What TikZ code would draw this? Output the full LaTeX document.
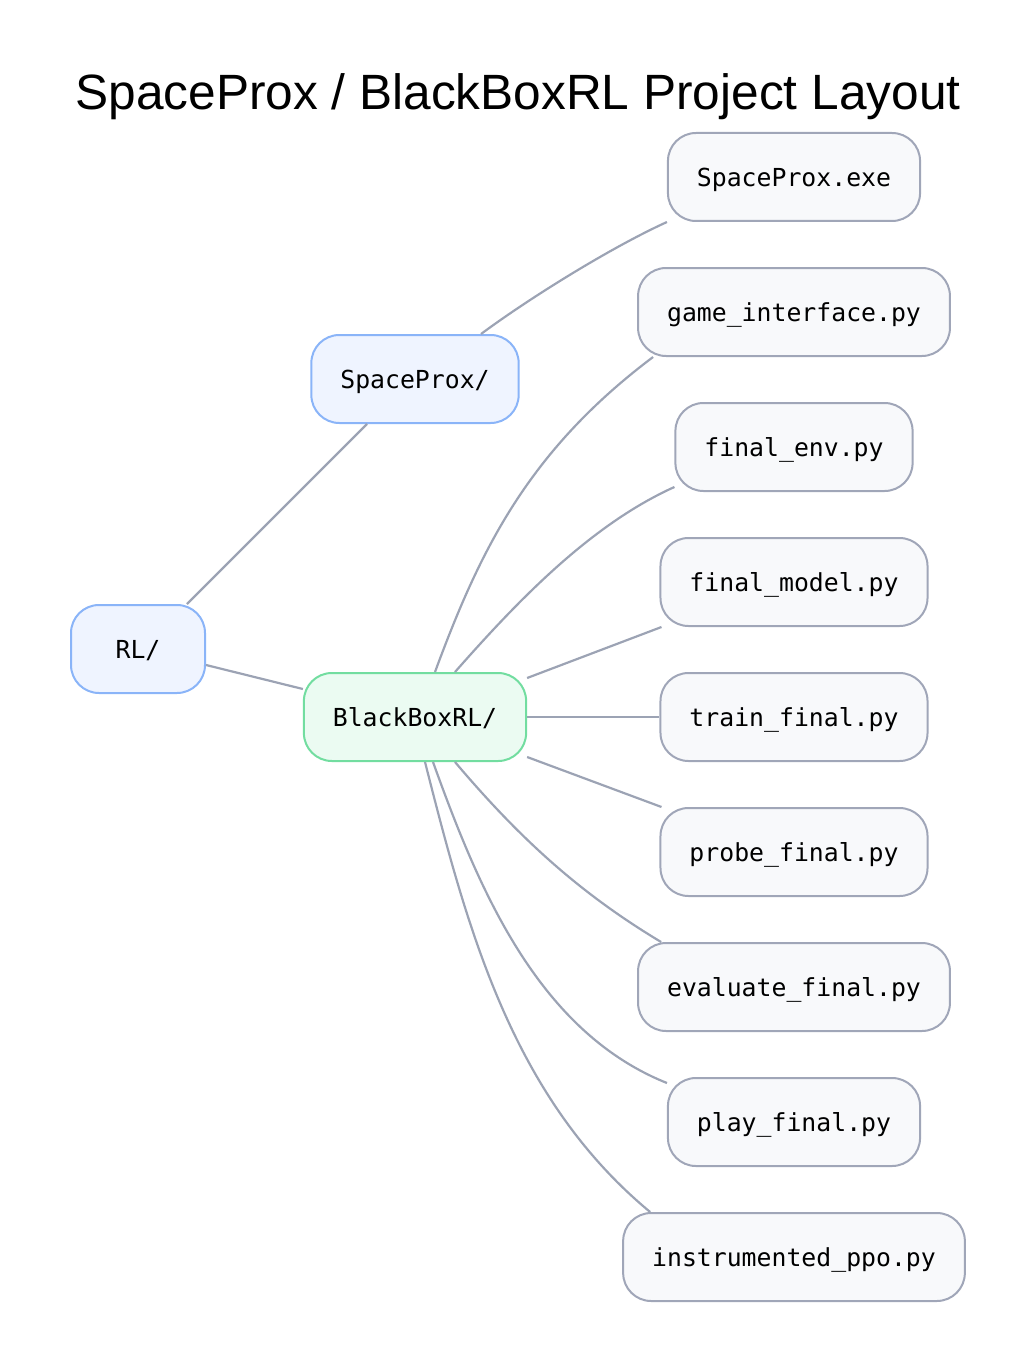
\documentclass[tikz,border=0pt]{standalone}
\usepackage{fontspec}
\setmainfont{Liberation Sans}
\setmonofont{DejaVu Sans Mono}
\usetikzlibrary{positioning}

\definecolor{dirline}{HTML}{8AB4F8}
\definecolor{dirfill}{HTML}{EFF4FF}
\definecolor{pkgline}{HTML}{72DDA0}
\definecolor{pkgfill}{HTML}{EBFBF2}
\definecolor{fileline}{HTML}{A0A6B8}
\definecolor{filefill}{HTML}{F8F9FB}
\definecolor{edge}{HTML}{9CA3B4}

\begin{document}
\begin{tikzpicture}[x = 1pt, y = -1pt, node distance = 45pt,
    box/.style = {draw, line width = 2pt, rounded corners = 28pt, minimum height = 88pt,
      inner xsep = 29pt, text depth = 0pt, font = \ttfamily\fontsize{24.8}{28}\selectfont},
    dir/.style = {box, draw = dirline, fill = dirfill},
    pkg/.style = {box, draw = pkgline, fill = pkgfill},
    file/.style = {box, draw = fileline, fill = filefill},
    link/.style = {draw = edge, line width = 2.2pt}]
  \useasboundingbox (0,0) rectangle (1035,1356);
  \node (title) at (518,97) {\fontsize{49.6}{58}\selectfont SpaceProx / BlackBoxRL Project Layout};

  % right column: files
  \node[file] (exe) at (794,177) {SpaceProx.exe};
  \node[file, below = of exe] (gi) {game\_interface.py};
  \node[file, below = of gi] (fe) {final\_env.py};
  \node[file, below = of fe] (fm) {final\_model.py};
  \node[file, below = of fm] (tf) {train\_final.py};
  \node[file, below = of tf] (pf) {probe\_final.py};
  \node[file, below = of pf] (ef) {evaluate\_final.py};
  \node[file, below = of ef] (pl) {play\_final.py};
  \node[file, below = of pl] (ip) {instrumented\_ppo.py};

  % folders
  \node[dir, minimum width = 134pt] (rl) at (138,649) {RL/};
  \node[dir] (sp) at (415,379) {SpaceProx/};
  \node[pkg] (bb) at (415,717) {BlackBoxRL/};

  \draw[link] ([xshift = 49pt]rl.north) -- ([xshift = -48pt]sp.south);
  \draw[link] ([yshift = -16pt]rl.east) -- ([yshift = 28pt]bb.west);
  \draw[link] ([xshift = 66pt]sp.north) .. controls +(50,-37) and +(-55,25) .. (exe.south west);

  \draw[link] ([xshift = 20pt]bb.north) .. controls +(45,-122) and +(-125,94) .. ([xshift = 16pt]gi.south west);
  \draw[link] ([xshift = 40pt]bb.north) .. controls +(66,-75) and +(-82,37) .. ([yshift = 5pt]fe.south west);
  \draw[link] ([yshift = 39pt]bb.east) -- ([xshift = 2pt]fm.south west);
  \draw[link] (bb.east) -- (tf.west);
  \draw[link] ([yshift = -40pt]bb.east) -- ([xshift = 2pt]pf.north west);
  \draw[link] ([xshift = 40pt]bb.south) .. controls +(66,78) and +(-80,-48) .. ([xshift = 24pt]ef.north west);
  \draw[link] ([xshift = 18pt]bb.south) .. controls +(45,125) and +(-130,-52) .. ([yshift = -6pt]pl.north west);
  \draw[link] ([xshift = 10pt]bb.south) .. controls +(42,165) and +(-139,-115) .. ([xshift = 28pt]ip.north west);
\end{tikzpicture}
\end{document}
